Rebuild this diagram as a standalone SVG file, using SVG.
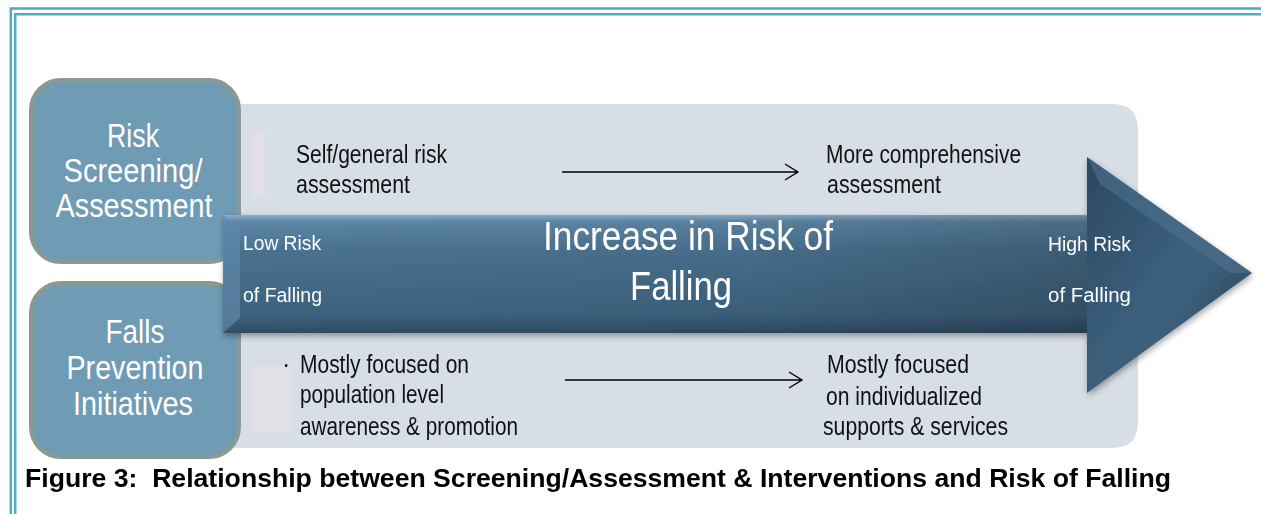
<svg xmlns="http://www.w3.org/2000/svg" width="1261" height="514" viewBox="0 0 1261 514">
<defs>
<style>
.frame{fill:none;stroke:#4BACC6;stroke-width:2.5}
.side{fill:#6F9BB5;stroke:#8C998E;stroke-width:4}
.sideTxt{font-family:"Liberation Sans Narrow","Liberation Sans",Arial,sans-serif;font-size:34px;fill:#FFFFFF;text-anchor:middle}
.body{font-family:"Liberation Sans Narrow","Liberation Sans",Arial,sans-serif;font-size:25px;fill:#111111}
.arrTxt{font-family:"Liberation Sans Narrow","Liberation Sans",Arial,sans-serif;font-size:19.5px;fill:#FFFFFF}
.big{font-family:"Liberation Sans Narrow","Liberation Sans",Arial,sans-serif;font-size:40px;fill:#FFFFFF}
.cap{font-family:"Liberation Sans",Arial,sans-serif;font-size:26px;font-weight:bold;fill:#000000}
.conn{fill:none;stroke:#000000;stroke-width:1.4}
</style>
<linearGradient id="bodyG" x1="0" y1="0" x2="0" y2="1">
<stop offset="0" stop-color="#86B0D0"/>
<stop offset="0.06" stop-color="#5D86A6"/>
<stop offset="0.3" stop-color="#4A7290"/>
<stop offset="0.85" stop-color="#3D627E"/>
<stop offset="1" stop-color="#2E4C63"/>
</linearGradient>
<linearGradient id="bodyH" x1="0" y1="0" x2="1" y2="0">
<stop offset="0" stop-color="#000000" stop-opacity="0"/>
<stop offset="0.6" stop-color="#000000" stop-opacity="0.05"/>
<stop offset="1" stop-color="#000000" stop-opacity="0.2"/>
</linearGradient>
<linearGradient id="headG" x1="0" y1="0" x2="1" y2="1">
<stop offset="0" stop-color="#2C4860"/>
<stop offset="0.45" stop-color="#3A5E7A"/>
<stop offset="0.6" stop-color="#3B5F7B"/>
<stop offset="1" stop-color="#22394D"/>
</linearGradient>
<filter id="sh" x="-5%" y="-10%" width="110%" height="130%">
<feGaussianBlur in="SourceAlpha" stdDeviation="3"/>
<feOffset dx="1" dy="3" result="b"/>
<feComponentTransfer><feFuncA type="linear" slope="0.35"/></feComponentTransfer>
<feMerge><feMergeNode/><feMergeNode in="SourceGraphic"/></feMerge>
</filter>
</defs>
<rect width="1261" height="514" fill="#FFFFFF"/>
<g id="frame">
<path class="frame" d="M1261 8.5 H10.8 V514"/>
<path class="frame" d="M1261 14.3 H15.2 V514"/>
</g>
<g id="background">
<path d="M232 104 H1112 Q1138 104 1138 130 V422 Q1138 448 1112 448 H232 Z" fill="#D8DEE5"/>
<rect x="252" y="132" width="13" height="65" fill="#E2E0E6"/>
<rect x="252" y="366" width="39" height="65" fill="#E2E0E6"/>
</g>
<g id="node-risk-screening">
<rect class="side" x="31" y="80" width="208" height="182" rx="30"/>
<text class="sideTxt" x="133" y="147" textLength="52" lengthAdjust="spacingAndGlyphs">Risk</text>
<text class="sideTxt" x="133" y="182" textLength="139" lengthAdjust="spacingAndGlyphs">Screening/</text>
<text class="sideTxt" x="134" y="217" textLength="157" lengthAdjust="spacingAndGlyphs">Assessment</text>
</g>
<g id="node-falls-prevention">
<rect class="side" x="31" y="283" width="208" height="174" rx="30"/>
<text class="sideTxt" x="135" y="343" textLength="59" lengthAdjust="spacingAndGlyphs">Falls</text>
<text class="sideTxt" x="135" y="379" textLength="137" lengthAdjust="spacingAndGlyphs">Prevention</text>
<text class="sideTxt" x="133" y="415" textLength="120" lengthAdjust="spacingAndGlyphs">Initiatives</text>
</g>
<g id="node-big-arrow" filter="url(#sh)">
<rect x="223" y="215" width="867" height="118" fill="url(#bodyG)"/>
<rect x="223" y="215" width="867" height="118" fill="url(#bodyH)"/>
<path d="M223 215 L240 230 L240 318 L223 333 Z" fill="#5F88A8" opacity="0.7"/>
<path d="M1087 157 L1252 273 L1087 393 Z" fill="url(#headG)"/>
<path d="M1087 157 L1252 273 L1230 273 L1100 184 Z" fill="#4F7593" opacity="0.55"/>
</g>
<g id="arrow-labels">
<text class="arrTxt" x="243" y="250" textLength="78" lengthAdjust="spacingAndGlyphs">Low Risk</text>
<text class="arrTxt" x="243" y="302" textLength="79" lengthAdjust="spacingAndGlyphs">of Falling</text>
<text class="big" x="543" y="250" textLength="290" lengthAdjust="spacingAndGlyphs">Increase in Risk of</text>
<text class="big" x="630" y="300" textLength="102" lengthAdjust="spacingAndGlyphs">Falling</text>
<text class="arrTxt" x="1048" y="251" textLength="83" lengthAdjust="spacingAndGlyphs">High Risk</text>
<text class="arrTxt" x="1048" y="302" textLength="83" lengthAdjust="spacingAndGlyphs">of Falling</text>
</g>
<g id="node-self-assessment">
<text class="body" x="296" y="163" textLength="151" lengthAdjust="spacingAndGlyphs">Self/general risk</text>
<text class="body" x="296" y="193" textLength="114" lengthAdjust="spacingAndGlyphs">assessment</text>
</g>
<g id="node-comprehensive">
<text class="body" x="826" y="163" textLength="195" lengthAdjust="spacingAndGlyphs">More comprehensive</text>
<text class="body" x="827" y="193" textLength="114" lengthAdjust="spacingAndGlyphs">assessment</text>
</g>
<g id="node-population">
<text class="body" x="282" y="373" font-size="20">·</text>
<text class="body" x="300" y="373" textLength="169" lengthAdjust="spacingAndGlyphs">Mostly focused on</text>
<text class="body" x="300" y="403" textLength="144" lengthAdjust="spacingAndGlyphs">population level</text>
<text class="body" x="300" y="435" textLength="218" lengthAdjust="spacingAndGlyphs">awareness &amp; promotion</text>
</g>
<g id="node-individualized">
<text class="body" x="827" y="373" textLength="142" lengthAdjust="spacingAndGlyphs">Mostly focused</text>
<text class="body" x="826" y="405" textLength="156" lengthAdjust="spacingAndGlyphs">on individualized</text>
<text class="body" x="823" y="435" textLength="185" lengthAdjust="spacingAndGlyphs">supports &amp; services</text>
</g>
<g id="connectors">
<path class="conn" d="M562 172 H798 M785 164 L798 172 L785 180"/>
<path class="conn" d="M565 380 H802 M789 372 L802 380 L789 388"/>
</g>
<g id="caption">
<text class="cap" x="25" y="487" textLength="1146" lengthAdjust="spacingAndGlyphs" xml:space="preserve">Figure 3:  Relationship between Screening/Assessment &amp; Interventions and Risk of Falling</text>
</g>
</svg>
